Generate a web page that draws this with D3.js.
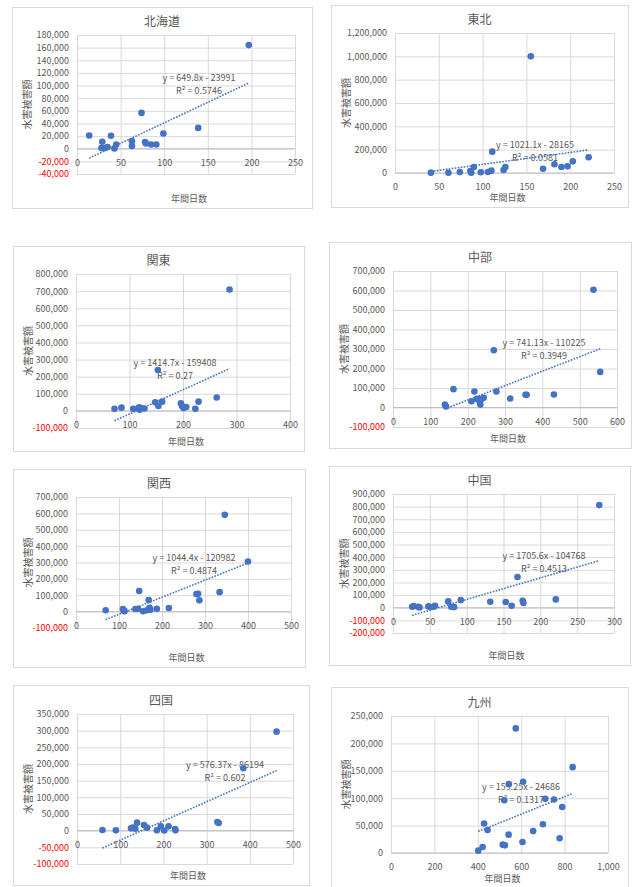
<!DOCTYPE html>
<html>
<head>
<meta charset="utf-8">
<script src="https://cdn.jsdelivr.net/npm/d3@7"></script>
<style>
    body { margin: 0; background: #fff; }
    svg text { font-family: 'Noto Sans CJK JP', sans-serif; }
</style>
</head>
<body>
<div id="chart"></div>
<script>
// regions and their x / y series (年間日数, 水害被害額)
const regions = ['北海道', '東北', '関東', '中部', '関西', '中国', '四国', '九州'];

const hokkaidoDays = [14, 28, 29, 32, 35, 39, 43, 45, 63, 63, 74, 78, 79, 85, 91, 99, 139, 197];
const hokkaidoDamage = [21000, 1000, 11000, 1000, 2600, 20500, 500, 6800, 12000, 4200, 56700, 10500, 8400, 6800, 6800, 24000, 33000, 164000];

const tohokuDays = [41, 61, 74, 86, 87, 90, 98, 106, 110, 111, 124, 126, 155, 169, 182, 190, 197, 203, 221];
const tohokuDamage = [3000, 2000, 8000, 17000, 3000, 51000, 6000, 8600, 20000, 183000, 26000, 51000, 1000000, 37000, 74500, 51000, 57000, 100000, 135000];

const kantoDays = [72, 85, 107, 116, 118, 119, 122, 128, 148, 153, 154, 161, 196, 198, 201, 206, 223, 229, 263, 287];
const kantoDamage = [12000, 19000, 12000, 13600, 21000, 6000, 17000, 14000, 50000, 239000, 29000, 54000, 45000, 29000, 17500, 23000, 12000, 54000, 78000, 709000];

const chubuDays = [139, 142, 162, 210, 218, 225, 232, 234, 237, 243, 270, 277, 314, 355, 358, 431, 537, 555];
const chubuDamage = [15000, 5000, 94000, 32000, 82000, 44000, 31000, 15000, 44000, 49500, 293500, 82000, 46000, 65000, 65000, 66500, 604000, 182600];

const kansaiDays = [69, 109, 111, 113, 138, 144, 147, 156, 165, 169, 171, 173, 188, 216, 280, 284, 287, 334, 346, 400];
const kansaiDamage = [8000, 16000, 6000, 3000, 16000, 18000, 125500, 2000, 8000, 71000, 24000, 12000, 18000, 22000, 107000, 109000, 69000, 119000, 591000, 305700];

const chugokuDays = [26, 28, 34, 36, 48, 51, 55, 57, 75, 79, 83, 92, 132, 153, 161, 169, 176, 177, 221, 280];
const chugokuDamage = [8000, 13000, 8000, 2600, 10600, 5000, 8000, 16000, 50000, 8000, 5000, 61000, 47600, 45000, 16000, 243000, 55500, 37000, 66000, 812000];

const shikokuDays = [59, 90, 125, 129, 135, 139, 155, 162, 185, 194, 202, 212, 227, 228, 325, 328, 385, 462];
const shikokuDamage = [2000, 1000, 7000, 9000, 6000, 24000, 17000, 9000, 1000, 13000, 500, 13000, 5000, 1000, 26000, 23000, 187400, 297000];

const kyushuDays = [402, 422, 429, 445, 515, 522, 525, 542, 543, 575, 606, 609, 655, 700, 711, 751, 777, 789, 837];
const kyushuDamage = [4300, 11000, 53700, 42000, 15200, 96300, 14000, 33500, 125600, 227400, 20000, 130000, 40000, 52400, 98800, 97600, 26800, 84000, 156700];

const daySeries = [hokkaidoDays, tohokuDays, kantoDays, chubuDays, kansaiDays, chugokuDays, shikokuDays, kyushuDays];
const damageSeries = [hokkaidoDamage, tohokuDamage, kantoDamage, chubuDamage, kansaiDamage, chugokuDamage, shikokuDamage, kyushuDamage];

// linear trendlines as printed on the charts
const trendSlopes = [649.8, 1021.1, 1414.7, 741.13, 1044.4, 1705.6, 576.37, 159.25];
const trendIntercepts = [-23991, -28165, -159408, -110225, -120982, -104768, -86194, -24686];
const rSquared = ['0.5746', '0.0581', '0.27', '0.3949', '0.4874', '0.4513', '0.602', '0.1317'];

// axis ranges
const xAxisMax = [250, 250, 400, 600, 500, 300, 500, 1000];
const xTickStep = [50, 50, 100, 100, 100, 50, 100, 200];
const yAxisMin = [-40000, 0, -100000, -100000, -100000, -200000, -100000, 0];
const yAxisMax = [180000, 1200000, 800000, 700000, 700000, 900000, 350000, 250000];
const yTickStep = [20000, 200000, 100000, 100000, 100000, 100000, 50000, 50000];

const xTitle = '年間日数';
const yTitle = '水害被害額';

// layout: chart frames [x, y, w, h], plot areas [x0, y0, x1, y1], equation label anchors
const panelBoxes = [
    [12, 7, 300, 201], [331, 5, 297, 202],
    [13, 246, 291, 205], [329, 242, 302, 206],
    [13, 469, 292, 198], [329, 466, 301, 199],
    [13, 685, 296, 200], [331, 687, 297, 201],
];
const plotRects = [
    [77, 35, 295, 174], [395, 33, 614, 173],
    [76, 274, 290, 428], [393, 271, 617, 427],
    [76, 497, 291, 628], [393, 494, 614, 633],
    [77, 714, 293, 864], [391, 716, 608, 853],
];
const labelAnchors = [
    [199, 78], [535, 145],
    [175, 363], [544, 343],
    [194, 558], [544, 556],
    [225, 765], [521, 787],
];

const textColor = '#595959';
const gridColor = '#d9d9d9';
const markColor = '#4472c4';

const locale = d3.formatLocale({ decimal: '.', thousands: ',', grouping: [3], currency: ['', ''], minus: '-' });
const fmt = locale.format(',');

class ScatterPanel {
    constructor(svg, index) {
        const [bx, by, bw, bh] = panelBoxes[index];
        const [px0, py0, px1, py1] = plotRects[index];
        const days = daySeries[index];
        const damage = damageSeries[index];

        this.x = d3.scaleLinear()
            .domain([0, xAxisMax[index]])
            .range([px0, px1]);
        this.y = d3.scaleLinear()
            .domain([yAxisMin[index], yAxisMax[index]])
            .range([py1, py0]);

        const xTicks = d3.range(0, xAxisMax[index] + 1, xTickStep[index]);
        const yTicks = d3.range(yAxisMin[index], yAxisMax[index] + 1, yTickStep[index]);

        this.node = svg.append('g');

        this.node.append('rect')
            .attr('x', bx + 0.5)
            .attr('y', by + 0.5)
            .attr('width', bw)
            .attr('height', bh)
            .attr('fill', '#fff')
            .attr('stroke', gridColor);

        // horizontal grid + value labels
        this.node.append('g')
            .attr('transform', `translate(${px0},0)`)
            .call(d3.axisLeft(this.y)
                .tickValues(yTicks)
                .tickSize(-(px1 - px0))
                .tickPadding(8)
                .tickFormat(fmt))
            .call(g => g.select('.domain').remove())
            .call(g => g.selectAll('line').attr('stroke', gridColor))
            .call(g => g.selectAll('text')
                .attr('font-size', 9)
                .attr('font-family', null)
                .attr('fill', d => (d < 0 ? '#ff0000' : textColor)));

        // vertical grid
        this.node.append('g')
            .attr('transform', `translate(0,${py1})`)
            .call(d3.axisBottom(this.x)
                .tickValues(xTicks)
                .tickSize(-(py1 - py0))
                .tickFormat(''))
            .call(g => g.select('.domain').remove())
            .call(g => g.selectAll('line').attr('stroke', gridColor));

        // x labels sit under the zero line
        this.node.append('g')
            .attr('transform', `translate(0,${this.y(0)})`)
            .call(d3.axisBottom(this.x)
                .tickValues(xTicks)
                .tickSize(0)
                .tickPadding(11)
                .tickFormat(fmt))
            .call(g => g.select('.domain').remove())
            .call(g => g.selectAll('text')
                .attr('font-size', 9)
                .attr('font-family', null)
                .attr('fill', textColor));

        this.node.append('line')
            .attr('x1', px0)
            .attr('x2', px1)
            .attr('y1', this.y(0))
            .attr('y2', this.y(0))
            .attr('stroke', '#bfbfbf');

        this.node.append('text')
            .attr('x', bx + bw / 2)
            .attr('y', py0 - 9)
            .attr('text-anchor', 'middle')
            .attr('font-size', 12)
            .attr('fill', textColor)
            .text(regions[index]);

        this.node.append('text')
            .attr('x', (px0 + px1) / 2 + 3)
            .attr('y', by + bh - 9)
            .attr('dy', '0.35em')
            .attr('text-anchor', 'middle')
            .attr('font-size', 9)
            .attr('fill', textColor)
            .text(xTitle);

        this.node.append('text')
            .attr('transform', `translate(${bx + 15},${(py0 + py1) / 2}) rotate(-90)`)
            .attr('dy', '0.35em')
            .attr('text-anchor', 'middle')
            .attr('font-size', 10)
            .attr('fill', textColor)
            .text(yTitle);

        // trendline equation
        const [lx, ly] = labelAnchors[index];
        const eq = `y = ${trendSlopes[index]}x - ${-trendIntercepts[index]}`;
        this.node.append('text')
            .attr('x', lx)
            .attr('y', ly)
            .attr('dy', '0.35em')
            .attr('text-anchor', 'middle')
            .attr('font-size', 9)
            .attr('fill', textColor)
            .text(eq);
        this.node.append('text')
            .attr('x', lx)
            .attr('y', ly + 12.5)
            .attr('dy', '0.35em')
            .attr('text-anchor', 'middle')
            .attr('font-size', 9)
            .attr('fill', textColor)
            .text(`R² = ${rSquared[index]}`);

        const lineFunc = d3.line()
            .x(d => this.x(d))
            .y(d => this.y(trendSlopes[index] * d + trendIntercepts[index]));

        this.node.append('path')
            .datum(d3.extent(days))
            .attr('d', lineFunc)
            .attr('fill', 'none')
            .attr('stroke', markColor)
            .attr('stroke-width', 1.6)
            .attr('stroke-dasharray', '1.6 1.4');

        this.node.append('g')
            .selectAll('circle')
            .data(days.map((d, i) => [d, damage[i]]))
            .join('circle')
            .attr('cx', d => this.x(d[0]))
            .attr('cy', d => this.y(d[1]))
            .attr('r', 3.3)
            .attr('fill', markColor);
    }
}

const svg = d3.select('#chart')
    .append('svg')
    .attr('width', 633)
    .attr('height', 887);

regions.forEach((r, i) => new ScatterPanel(svg, i));
</script>
</body>
</html>
